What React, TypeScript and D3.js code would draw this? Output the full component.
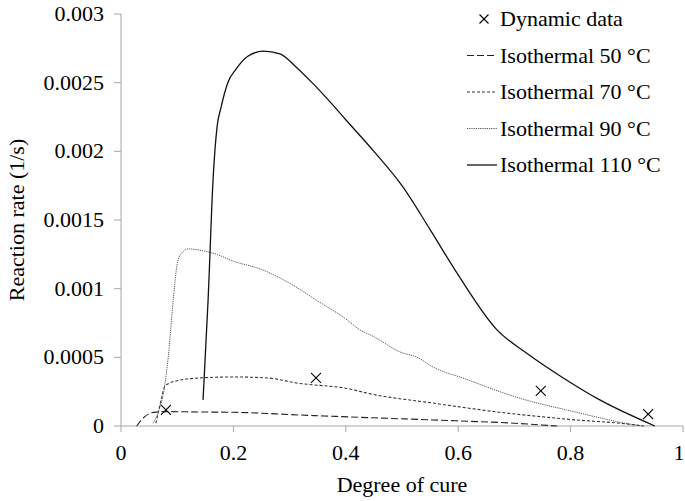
import React, { useEffect, useRef } from 'react';
import * as d3 from 'd3';

// x = degree of cure, y = reaction rate (1/s)
const iso50X = [0.028, 0.04, 0.053, 0.065, 0.08, 0.14, 0.2, 0.318, 0.407, 0.555, 0.7, 0.776];
const iso50Y = [0, 0.00006, 0.000095, 0.000102, 0.000105, 0.000102, 0.0001, 0.00008, 0.000066, 0.000044, 0.00002, 0];

const iso70X = [0.062, 0.072, 0.078, 0.085, 0.1, 0.14, 0.2, 0.26, 0.318, 0.342, 0.407, 0.437, 0.555, 0.674, 0.793, 0.911, 0.93];
const iso70Y = [0.00002, 0.0002, 0.00029, 0.00031, 0.00033, 0.00035, 0.000357, 0.00035, 0.00031, 0.0003, 0.00027, 0.00024, 0.000167, 0.0001, 0.00005, 0.00001, 0];

const iso90X = [0.057, 0.068, 0.076, 0.084, 0.093, 0.1, 0.108, 0.12, 0.14, 0.17, 0.2, 0.25, 0.3, 0.35, 0.4, 0.425, 0.45, 0.496, 0.527, 0.555, 0.615, 0.674, 0.733, 0.793, 0.852, 0.911, 0.93];
const iso90Y = [0.00002, 0.00012, 0.00025, 0.0005, 0.00092, 0.00118, 0.00126, 0.00129, 0.00128, 0.00125, 0.0012, 0.00114, 0.00104, 0.00091, 0.00078, 0.0007, 0.00065, 0.00054, 0.0005, 0.00043, 0.00034, 0.00025, 0.000175, 0.000117, 0.00006, 0.00001, 0];

const iso110X = [0.146, 0.155, 0.164, 0.171, 0.178, 0.19, 0.205, 0.225, 0.253, 0.283, 0.31, 0.34, 0.372, 0.4, 0.45, 0.5, 0.55, 0.6, 0.669, 0.722, 0.787, 0.852, 0.95];
const iso110Y = [0.00019, 0.00092, 0.00181, 0.00218, 0.00232, 0.0025, 0.0026, 0.00269, 0.00273, 0.00271, 0.00262, 0.0025, 0.00236, 0.00223, 0.002, 0.00175, 0.00143, 0.0011, 0.0007, 0.00053, 0.00035, 0.00019, 0];

const dynX = [0.08, 0.347, 0.747, 0.938];
const dynY = [0.000117, 0.00035, 0.000255, 0.000087];

const xTicks = [0, 0.2, 0.4, 0.6, 0.8, 1];
const yTicks = [0, 0.0005, 0.001, 0.0015, 0.002, 0.0025, 0.003];

const seriesNames = ['Isothermal 50 °C', 'Isothermal 70 °C', 'Isothermal 90 °C', 'Isothermal 110 °C'];
const seriesX = [iso50X, iso70X, iso90X, iso110X];
const seriesY = [iso50Y, iso70Y, iso90Y, iso110Y];
const dashes = ['7,3', '3,2', '1.2,1', null];
const colors = ['#222', '#333', '#555', '#111'];
const widths = [1.1, 1.1, 1, 1.3];

const W = 685;
const H = 501;
const FS = 22;

export default function App() {
  const svgRef = useRef<SVGSVGElement>(null);

  useEffect(() => {
    if (!svgRef.current) return;
    const svg = d3.select(svgRef.current);
    svg.selectAll('*').remove();

    const x = d3.scaleLinear().domain([0, 1]).range([121, 683]);
    const y = d3.scaleLinear().domain([0, 0.003]).range([426, 14]);
    const axisColor = '#a6a6a6';

    svg.append('rect').attr('width', W).attr('height', H).attr('fill', '#fff');

    const label = (tx: number, ty: number, s: string, anchor = 'start') =>
      svg.append('text')
        .attr('x', tx).attr('y', ty)
        .attr('text-anchor', anchor)
        .attr('font-family', 'Liberation Serif')
        .attr('font-size', FS)
        .style('font-family', 'Liberation Serif')
        .style('font-size', FS + 'px')
        .text(s);

    // axes
    svg.append('line').attr('x1', x(0)).attr('x2', x(1)).attr('y1', y(0)).attr('y2', y(0)).attr('stroke', axisColor);
    svg.append('line').attr('x1', x(0)).attr('x2', x(0)).attr('y1', y(0)).attr('y2', y(0.003)).attr('stroke', axisColor);

    xTicks.forEach(t => {
      svg.append('line').attr('x1', x(t)).attr('x2', x(t)).attr('y1', y(0)).attr('y2', y(0) + 6).attr('stroke', axisColor);
      label(Math.min(x(t), 679), 460, d3.format('~g')(t), 'middle');
    });
    yTicks.forEach(t => {
      svg.append('line').attr('x1', x(0) - 7).attr('x2', x(0)).attr('y1', y(t)).attr('y2', y(t)).attr('stroke', axisColor);
      label(104, y(t) + 7, t === 0 ? '0' : String(t), 'end');
    });

    label((x(0) + x(1)) / 2, 492, 'Degree of cure', 'middle');
    label(0, 0, 'Reaction rate (1/s)', 'middle')
      .attr('transform', `translate(24,${(y(0) + y(0.003)) / 2}) rotate(-90)`);

    // curves
    const line = d3.line<[number, number]>()
      .x(d => x(d[0]))
      .y(d => y(d[1]))
      .curve(d3.curveMonotoneX);

    seriesNames.forEach((name, i) => {
      const pts = seriesX[i].map((v, j) => [v, seriesY[i][j]] as [number, number]);
      const p = svg.append('path')
        .attr('d', line(pts) || '')
        .attr('fill', 'none')
        .attr('stroke', colors[i])
        .attr('stroke-width', widths[i]);
      if (dashes[i]) p.attr('stroke-dasharray', dashes[i] as string);
    });

    const cross = (cx: number, cy: number, s: number) => {
      const g = svg.append('g').attr('stroke', '#000').attr('stroke-width', 1.1);
      g.append('line').attr('x1', cx - s).attr('y1', cy - s).attr('x2', cx + s).attr('y2', cy + s);
      g.append('line').attr('x1', cx - s).attr('y1', cy + s).attr('x2', cx + s).attr('y2', cy - s);
    };
    dynX.forEach((v, i) => cross(x(v), y(dynY[i]), 5));

    // legend
    const rows = [19, 55.5, 92, 128.5, 165];
    cross(484, rows[0], 4.5);
    label(500, rows[0] + 7, 'Dynamic data');
    seriesNames.forEach((name, i) => {
      const ly = rows[i + 1];
      const l = svg.append('line').attr('x1', 467).attr('x2', 497).attr('y1', ly).attr('y2', ly)
        .attr('stroke', colors[i]).attr('stroke-width', widths[i]);
      if (dashes[i]) l.attr('stroke-dasharray', dashes[i] as string);
      label(500, ly + 7, name);
    });
  }, []);

  return (
    <svg ref={svgRef} width={W} height={H}
      style={{ position: 'absolute', left: 0, top: 0, background: '#fff' }} />
  );
}
